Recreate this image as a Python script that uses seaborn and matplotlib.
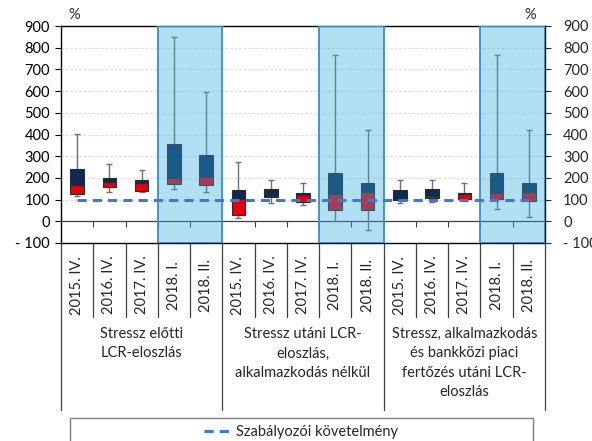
import numpy as np
import pandas as pd
import seaborn as sns
import matplotlib.pyplot as plt
from matplotlib.colors import to_rgba
from matplotlib.patches import Rectangle
from matplotlib.lines import Line2D

# LCR distribution summary stats (percent)
periods = ["2015. IV.", "2016. IV.", "2017. IV.", "2018. I.", "2018. II."] * 3
groups = ["Stressz előtti\nLCR-eloszlás",
          "Stressz utáni LCR-\neloszlás,\nalkalmazkodás nélkül",
          "Stressz, alkalmazkodás\nés bankközi piaci\nfertőzés utáni LCR-\neloszlás"]
whisk_lo = [116, 136, 136, 147, 135, 14, 85, 77, 2, -40, 83, 90, 93, 55, 22]
q1 = [124, 158, 139, 174, 168, 28, 113, 89, 52, 50, 100, 106, 101, 101, 95]
median = [169, 179, 177, 200, 204, 102, 117, 119, 127, 135, 104, 116, 124, 129, 135]
q3 = [239, 200, 192, 354, 306, 144, 148, 132, 224, 178, 145, 147, 132, 224, 178]
whisk_hi = [403, 264, 235, 848, 594, 274, 191, 176, 767, 422, 190, 190, 175, 767, 422]
requirement = [100] * 15
req_label = "Szabályozói követelmény"

df = pd.DataFrame({"pos": range(15), "q1": q1, "med": median, "q3": q3,
                   "lo": whisk_lo, "hi": whisk_hi, "req": requirement})
df["low_part"] = df["med"] - df["q1"]
df["high_part"] = df["q3"] - df["med"]

sns.set_theme(style="white")
plt.rcParams["font.family"] = ["Lato", "DejaVu Sans"]
fs = 10.5

fig = plt.figure(figsize=(5.92, 4.41), dpi=100)
ax = fig.add_axes([61 / 592, 198 / 441, 484 / 592, 217 / 441])

navy = "#0e2a52"
red = "#e3000f"
edge = "#2b2b2b"

# whiskers
ax.errorbar(df["pos"], df["lo"], yerr=[np.zeros(15), df["hi"] - df["lo"]],
            fmt="none", ecolor="#707070", elinewidth=1, capsize=2.5, zorder=1.5)

# two-tone boxes: Q1-median red, median-Q3 navy
sns.barplot(data=df, x="pos", y="low_part", bottom=df["q1"], color=red, saturation=1,
            width=0.42, errorbar=None, edgecolor=edge, linewidth=0.8, zorder=2, ax=ax)
sns.barplot(data=df, x="pos", y="high_part", bottom=df["med"], color=navy, saturation=1,
            width=0.42, errorbar=None, edgecolor=edge, linewidth=0.8, zorder=2, ax=ax)

# zero line
ax.axhline(0, color="#404040", linewidth=0.9, zorder=1.2)

# highlighted 2018 periods
for start in [3, 8, 13]:
    ax.axvspan(start - 0.5, start + 1.5, facecolor=to_rgba("#32aae1", 0.37),
               edgecolor="#3a8fc0", linewidth=1.3, zorder=3)

sns.lineplot(data=df, x="pos", y="req", color="#3a78dc", linewidth=2.2,
             linestyle=(0, (3, 2)), legend=False, zorder=4, ax=ax)

ax.set_xlim(-0.5, 14.5)
ax.set_ylim(-100, 900)
yt = list(range(-100, 1000, 100))
ylabels = ["- 100"] + [str(v) for v in yt[1:]]
ax.set_yticks(yt)
ax.set_yticklabels(ylabels, fontsize=fs)
ax.set_xlabel("")
ax.set_ylabel("")
ax.tick_params(axis="x", bottom=False, labelbottom=False)
ax.tick_params(axis="y", left=True, length=4, width=0.8, pad=4, colors="#000000")
ax.yaxis.grid(True, color="#d9d9d9", linestyle=(0, (2, 2)), linewidth=0.8)
ax.set_axisbelow(True)
for s in ax.spines.values():
    s.set_color("#000000")
    s.set_linewidth(1)

ax2 = ax.twinx()
ax2.set_ylim(-100, 900)
ax2.set_yticks(yt)
ax2.set_yticklabels(ylabels, fontsize=fs)
ax2.tick_params(axis="y", right=True, length=4, width=0.8, pad=9)
for s in ax2.spines.values():
    s.set_visible(False)

# category ticks on the zero line
sec = ax.secondary_xaxis(0.1)
sec.set_xticks([k + 0.5 for k in range(14)])
sec.set_xticklabels([])
sec.tick_params(direction="out", length=4, width=0.8, color="#404040")
sec.spines["bottom"].set_visible(False)

ax.text(0.027, 1.05, "%", transform=ax.transAxes, ha="center", va="center", fontsize=fs)
ax.text(0.969, 1.05, "%", transform=ax.transAxes, ha="center", va="center", fontsize=fs)

# category table under the plot
tr = ax.get_xaxis_transform()
for i, p in enumerate(periods):
    ax.text(i, -0.194, p, transform=tr, rotation=90, ha="center", va="center",
            fontsize=fs, clip_on=False)
for b in np.arange(-0.5, 15, 1):
    bottom_y = -0.77 if b in (-0.5, 4.5, 9.5, 14.5) else -0.34
    ax.plot([b, b], [0, bottom_y], transform=tr, color="#404040", lw=0.9, clip_on=False)
for g, name in enumerate(groups):
    ax.text(2 + 5 * g, -0.387, name, transform=tr, ha="center", va="top",
            fontsize=fs, linespacing=1.5, clip_on=False)

handle = Line2D([], [], color="#3a78dc", linewidth=2.2, linestyle=(0, (3, 2)))
fig.legend([handle], [req_label], loc="center", bbox_to_anchor=(301 / 592, 1 - 432 / 441),
           frameon=False, fontsize=fs, handlelength=2.0, handletextpad=0.2)
fig.add_artist(Rectangle((70 / 592, -0.02), 463 / 592, 23 / 441 + 0.02,
                         transform=fig.transFigure, fill=False, edgecolor="#7f7f7f", lw=1))

plt.savefig("out.png", dpi=100)
